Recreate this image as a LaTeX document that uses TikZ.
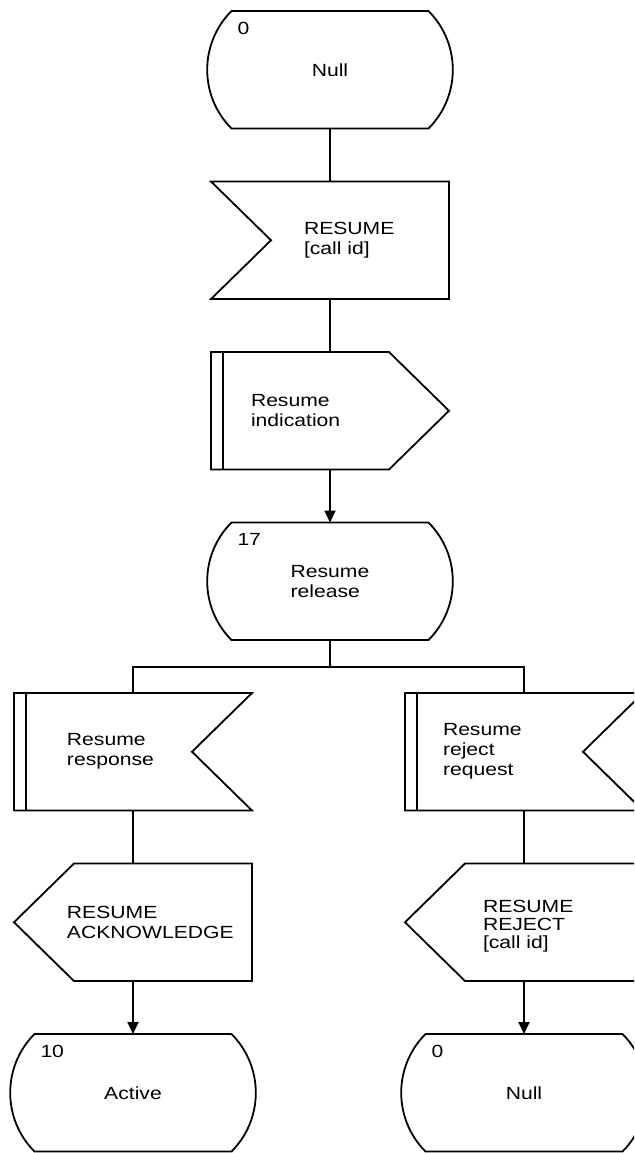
\documentclass[tikz,border=0pt]{standalone}
\usepackage{fontspec}
\setmainfont{Liberation Sans}[FakeStretch=1.2]
\usetikzlibrary{arrows.meta,positioning}

\begin{document}
\begin{tikzpicture}[
  x=0.5pt, y=-0.5pt,
  >={Triangle[length=6pt,width=5.5pt]},
  line width=0.9pt,
  node distance=26.5pt,
  every node/.style={font=\fontsize{8.8pt}{10pt}\selectfont,inner sep=0pt,outer sep=0pt},
  state/.style={minimum width=98.5pt,minimum height=58.75pt,align=left},
  sig/.style={minimum width=119pt,minimum height=58.75pt},
  txt/.style={anchor=west,align=left},
  num/.style={anchor=north west,xshift=3pt,yshift=-5.5pt}
]
  \path[use as bounding box,clip] (0,0) rectangle (634,1153);

  % main column
  \node[state,label={[num]north west:0}] (st0) at (330,69.75) {Null};
  \node[sig,below=of st0] (resin) {};
  \node[txt] (resin-t) at ([xshift=46.5pt]resin.west) {RESUME\\{[}call id{]}};
  \node[sig,below=of resin] (resind) {};
  \node[txt] (resind-t) at ([xshift=20pt]resind.west) {Resume\\indication};
  \node[state,below=of resind,label={[num]north west:17}] (st17) {Resume\\release};
  \coordinate[below=13.5pt of st17] (fork);

  % branches
  \node[sig,below=of st17,xshift=-98.5pt] (resresp) {};
  \node[txt] (resresp-t) at ([xshift=26.5pt]resresp.west) {Resume\\response};
  \node[sig,below=of st17,xshift=97pt] (rejreq) {};
  \node[txt] (rejreq-t) at ([xshift=19pt]rejreq.west) {Resume\\reject\\request};
  \node[sig,below=of resresp] (resack) {};
  \node[txt] (resack-t) at ([xshift=26.5pt]resack.west) {RESUME\\ACKNOWLEDGE};
  \node[sig,below=of rejreq] (resrej) {};
  \node[txt,font=\fontsize{8.8pt}{9pt}\selectfont] (resrej-t) at ([xshift=39pt,yshift=-2pt]resrej.west) {RESUME\\REJECT\\{[}call id{]}};
  \node[state,below=of resack,label={[num]north west:10}] (st10) {Active};
  \node[state,below=of resrej,label={[num]north west:0}] (stnull) {Null};

  % symbol outlines
  \foreach \s in {st0,st17,st10,stnull}
    \draw (\s.north west) -- (\s.north east) to[bend left=45] (\s.south east)
      -- (\s.south west) to[bend left=45] (\s.north west) -- cycle;
  \draw (resin.north west) -- (resin.north east) -- (resin.south east)
    -- (resin.south west) -- ([xshift=30pt]resin.west) -- cycle;
  \draw (resind.north west) -- ([xshift=-30pt]resind.north east) -- (resind.east)
    -- ([xshift=-30pt]resind.south east) -- (resind.south west) -- cycle;
  \foreach \s in {resresp,rejreq}
    \draw (\s.north west) -- (\s.north east) -- ([xshift=-30pt]\s.east)
      -- (\s.south east) -- (\s.south west) -- cycle;
  \foreach \s in {resind,resresp,rejreq}
    \draw ([xshift=6pt]\s.north west) -- ([xshift=6pt]\s.south west);
  \foreach \s in {resack,resrej}
    \draw ([xshift=30pt]\s.north west) -- (\s.north east) -- (\s.south east)
      -- ([xshift=30pt]\s.south west) -- (\s.west) -- cycle;

  % flow lines
  \draw (st0) -- (resin);
  \draw (resin) -- (resind);
  \draw[->] (resind) -- (st17);
  \draw (st17) -- (fork);
  \draw (resresp) |- (fork) -| (rejreq);
  \draw (resresp) -- (resack);
  \draw (rejreq) -- (resrej);
  \draw[->] (resack) -- (st10);
  \draw[->] (resrej) -- (stnull);
\end{tikzpicture}
\end{document}
